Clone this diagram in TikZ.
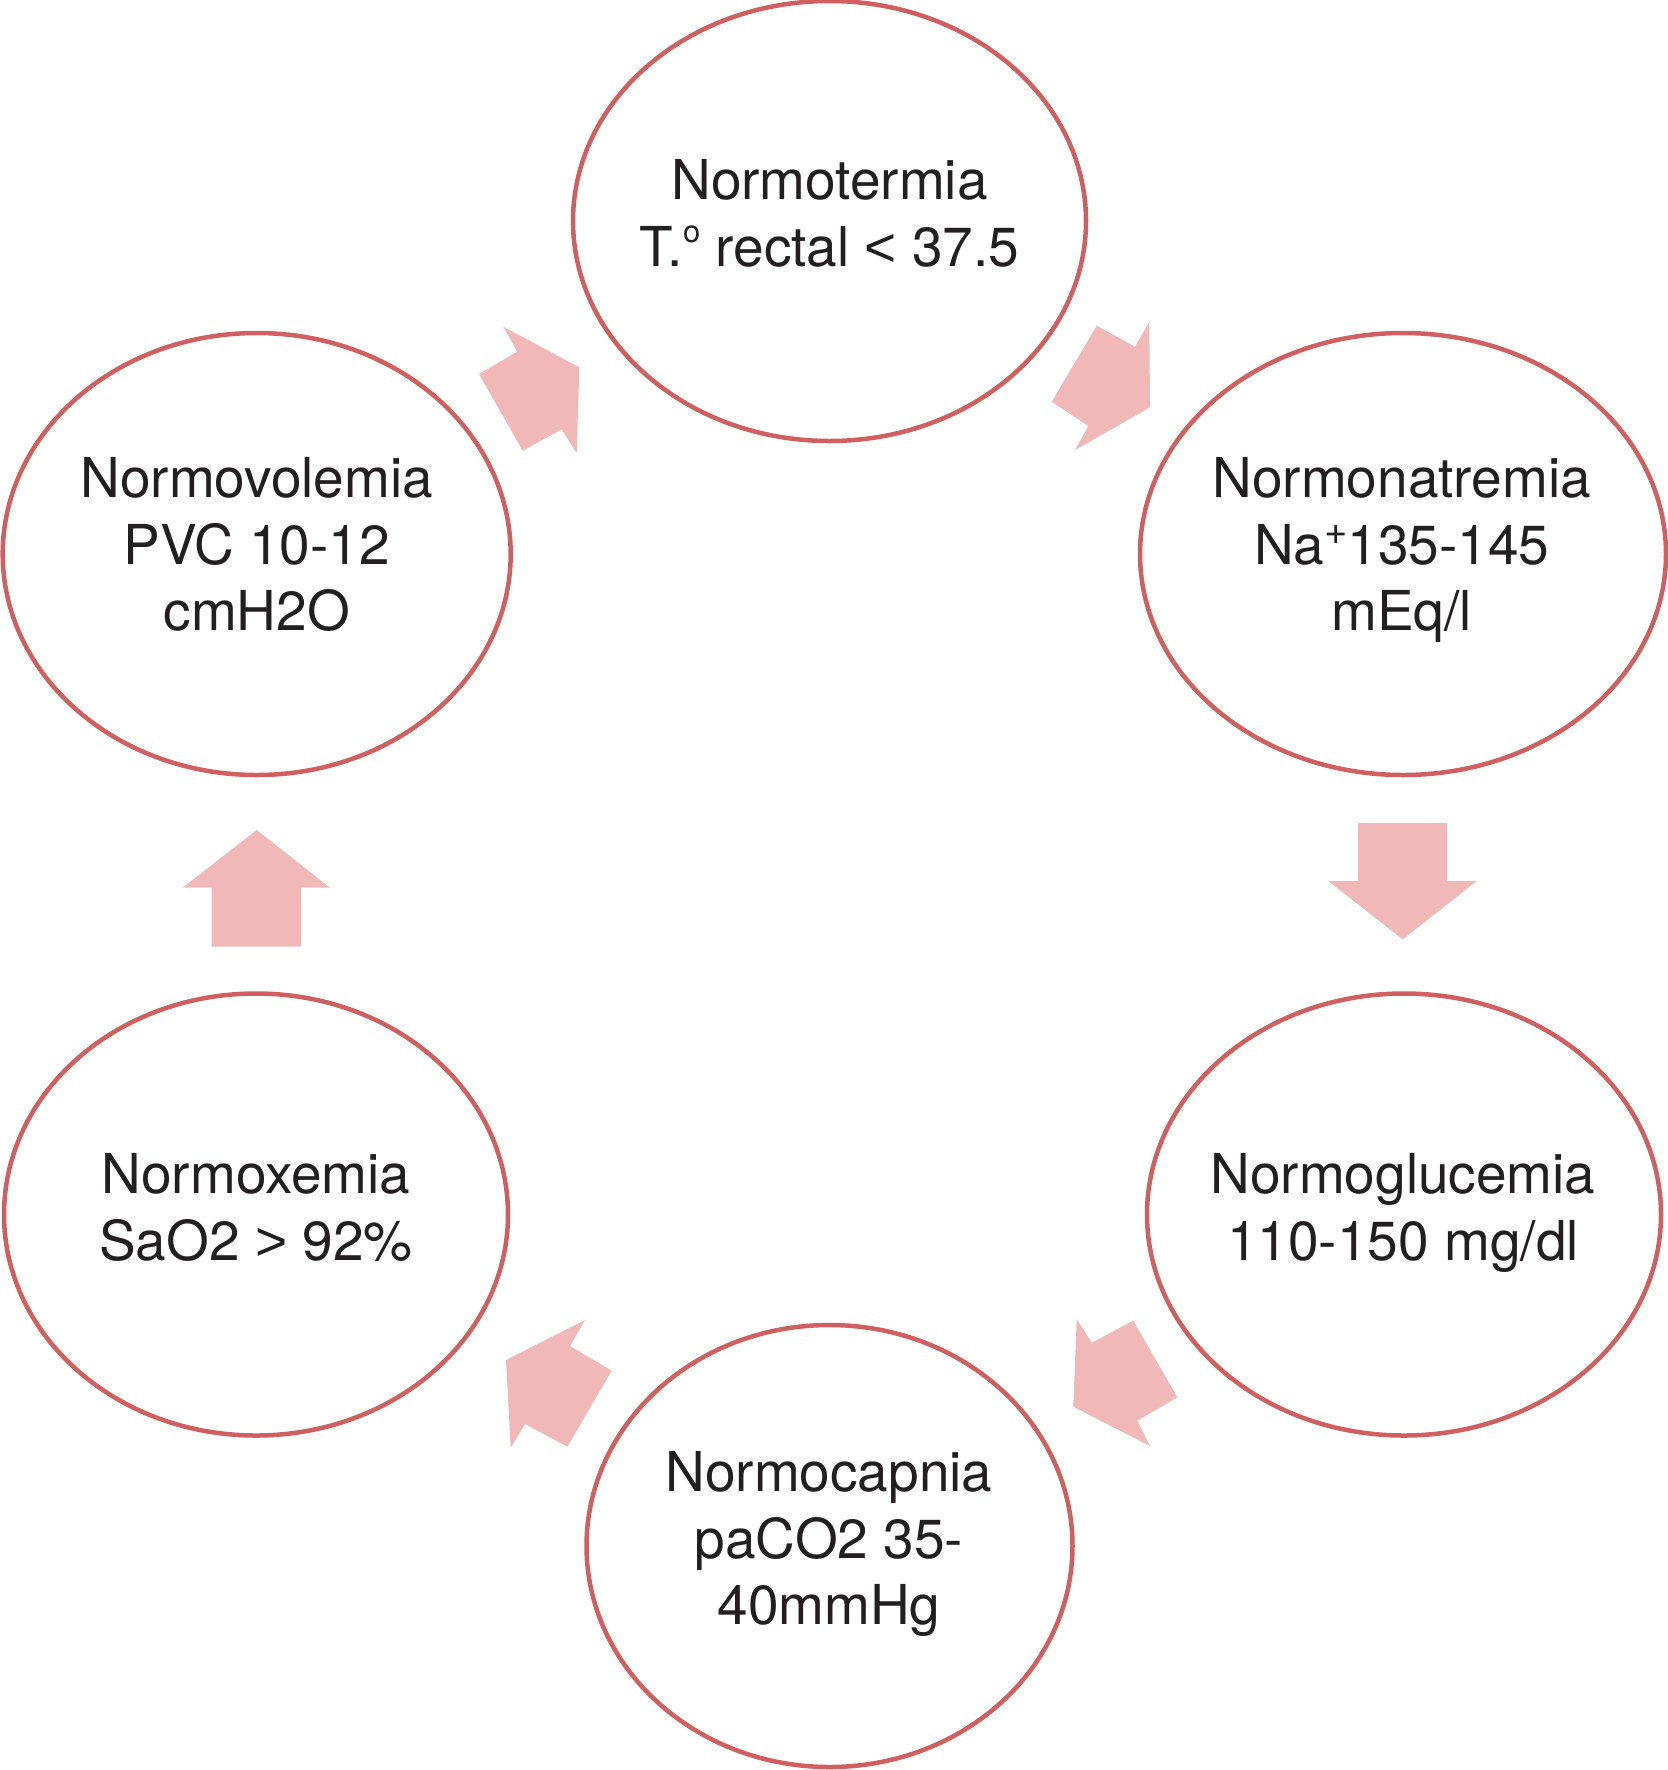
\documentclass[tikz,border=0pt]{standalone}
\usepackage{fontspec}
\setmainfont{TeX Gyre Heros}
\newfontfamily\libsans{Liberation Sans}
\usetikzlibrary{shapes.geometric}
\definecolor{ring}{HTML}{D0605F}
\definecolor{blockfill}{HTML}{F0B8B7}
\definecolor{ink}{HTML}{231F20}
\newcommand{\myord}{\raisebox{24pt}{\fontsize{31}{31}\selectfont o}}
\newcommand{\myplus}{\raisebox{20pt}{\fontsize{40}{40}\selectfont +}}
\newcommand{\mylt}{{\libsans <}}
\newcommand{\mygt}{{\libsans >}}
\begin{document}
\begin{tikzpicture}[x=1pt,y=-1pt,
  circ/.style={ellipse, draw=ring, line width=4.5pt, inner sep=0pt},
  lbl/.style={text=ink, align=center, font=\fontsize{55}{66.5}\selectfont, inner sep=0pt},
  blk/.style={fill=blockfill, draw=none}]
\useasboundingbox (0,0) rectangle (1668,1770);

% ellipses
\node[circ, minimum width=513pt, minimum height=440pt] (e1) at (829.5,221) {};
\node[circ, minimum width=526pt, minimum height=442pt] (e2) at (1403,554) {};
\node[circ, minimum width=514pt, minimum height=442pt] (e3) at (1404,1214.5) {};
\node[circ, minimum width=486pt, minimum height=442pt] (e4) at (829.5,1546) {};
\node[circ, minimum width=504pt, minimum height=442pt] (e5) at (256,1214.5) {};
\node[circ, minimum width=508pt, minimum height=442pt] (e6) at (256.7,554) {};

% labels
\node[lbl] (t1) at (829.5,213.5) {Normotermia\\T.\myord{} rectal \mylt{} 37.5};
\node[lbl] (t2) at (1401.7,550) {Normonatremia\\Na\myplus{}135-145\\mEq/l};
\node[lbl] (t3) at (1403,1213) {Normoglucemia\\110-150 mg/dl};
\node[lbl] (t4) at (829,1544) {Normocapnia\\paCO2 35-\\40mmHg};
\node[lbl] (t5) at (256,1207.5) {Normoxemia\\SaO2 \mygt{} 92\%};
\node[lbl] (t6) at (256.7,544.5) {Normovolemia\\PVC 10-12\\cmH2O};

% block arrows
\fill[blk] (503.3,326.7) -- (579.3,367.3) -- (576.7,453.3) -- (561.7,429.3) -- (522.7,450.7) -- (479,374) -- (517.3,351.7) -- cycle;
\fill[blk] (1096.7,325.7) -- (1135,346.7) -- (1149.3,321.7) -- (1150,407.3) -- (1075,450) -- (1088.3,426) -- (1051.7,401.7) -- cycle;
\fill[blk] (1358,823) -- (1447,823) -- (1447,881) -- (1476.7,881) -- (1402.7,939.3) -- (1328.3,881) -- (1358,881) -- cycle;
\fill[blk] (1076.7,1319) -- (1091.7,1342.7) -- (1133.3,1320.7) -- (1177.3,1397.3) -- (1137.3,1420.7) -- (1150,1446) -- (1073.3,1406.7) -- cycle;
\fill[blk] (585,1320) -- (570,1346) -- (611.7,1370.7) -- (567.3,1446.7) -- (525,1424) -- (510.7,1447.7) -- (506,1360) -- cycle;
\fill[blk] (211.7,946.7) -- (301,946.7) -- (301,887.7) -- (330,887.7) -- (256.7,830) -- (182.7,887.7) -- (211.7,887.7) -- cycle;
\end{tikzpicture}
\end{document}
